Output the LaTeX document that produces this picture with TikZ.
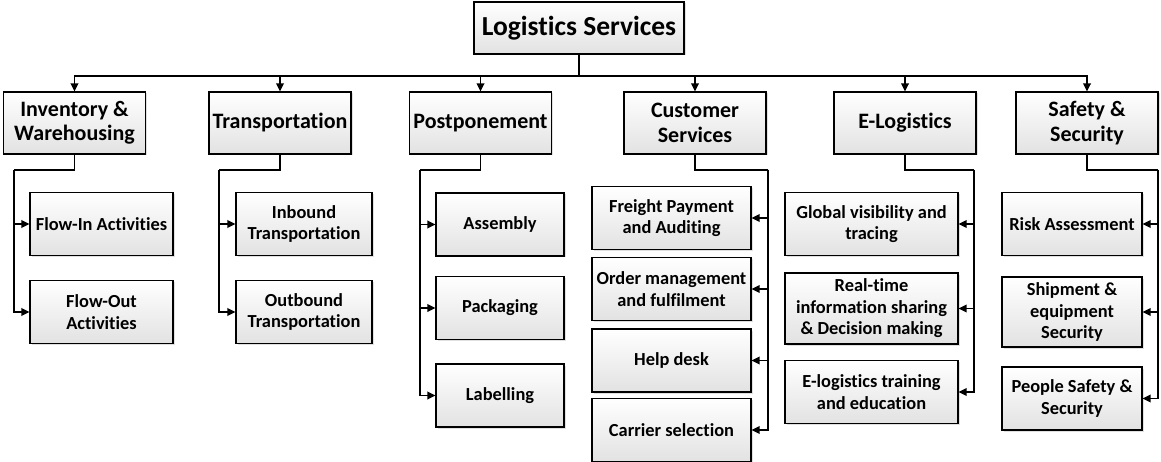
\documentclass[tikz,border=0pt]{standalone}
\usepackage{fontspec}
\setmainfont[Ligatures=NoCommon]{Carlito}
\usetikzlibrary{arrows.meta,shadows}
\definecolor{box_top}{RGB}{255,255,255}
\definecolor{box_bot}{RGB}{226,226,226}

\begin{document}
\begin{tikzpicture}[x=1pt,y=-1pt,line width=1.8pt,>={Triangle[length=8pt,width=7.5pt]}]
    \tikzstyle{box}=[draw=black, line width=1.1pt, rectangle, align=center, text=black,
                     top color=box_top, bottom color=box_bot, inner sep=2pt,
                     drop shadow={shadow xshift=1.5pt, shadow yshift=-1.5pt, opacity=0.3, fill=black!40}]
    \tikzstyle{root}=[style=box, minimum width=210pt, minimum height=52pt, font=\fontsize{27.5}{31}\selectfont\bfseries]
    \tikzstyle{cat}=[style=box, minimum width=142pt, minimum height=62pt, font=\fontsize{22}{24.5}\selectfont\bfseries]
    \tikzstyle{sub}=[style=box, minimum height=63pt, font=\fontsize{18.4}{21.6}\selectfont\bfseries]

    \useasboundingbox (0,0) rectangle (1161,462);

    \node[root] (LS) at (579,28) {Logistics Services};

    \node[cat] (inv)   at (74.5,123)  {Inventory \&\\Warehousing};
    \node[cat] (trans) at (280,123)   {Transportation};
    \node[cat] (post)  at (480.5,123) {Postponement};
    \node[cat] (cust)  at (695,123)   {Customer\\Services};
    \node[cat] (elog)  at (905,123)   {E-Logistics};
    \node[cat] (safe)  at (1087,123)  {Safety \&\\Security};

    % inventory & transport
    \node[sub,minimum width=143pt] (fin)  at (101.5,224) {Flow-In Activities};
    \node[sub,minimum width=143pt] (fout) at (101.5,312) {Flow-Out\\Activities};
    \node[sub,minimum width=136pt] (inb)  at (304,224)   {Inbound\\Transportation};
    \node[sub,minimum width=136pt] (outb) at (304,312)   {Outbound\\Transportation};

    % postponement
    \node[sub,minimum width=128pt] (asm)  at (500,224.5) {Assembly};
    \node[sub,minimum width=128pt] (pack) at (500,308)   {Packaging};
    \node[sub,minimum width=128pt] (lab)  at (500,395.5) {Labelling};

    % customer services
    \node[sub,minimum width=159pt] (fpa)  at (671.5,218)   {Freight Payment\\and Auditing};
    \node[sub,minimum width=159pt] (ord)  at (671.5,289)   {Order management\\and fulfilment};
    \node[sub,minimum width=159pt] (help) at (671.5,360.5) {Help desk};
    \node[sub,minimum width=159pt] (car)  at (671.5,430)   {Carrier selection};

    % e-logistics
    \node[sub,minimum width=173pt] (vis)  at (871.5,224)   {Global visibility and\\tracing};
    \node[sub,minimum width=173pt,minimum height=71pt] (rts) at (871.5,308.5) {Real-time\\information sharing\\\& Decision making};
    \node[sub,minimum width=173pt] (trn)  at (871.5,392)   {E-logistics training\\and education};

    % safety & security
    \node[sub,minimum width=140pt] (risk) at (1072,224)   {Risk Assessment};
    \node[sub,minimum width=140pt,minimum height=70pt] (ship) at (1072,312) {Shipment \&\\equipment\\Security};
    \node[sub,minimum width=140pt] (ppl)  at (1072,398.5) {People Safety \&\\Security};

    \coordinate (bus)   at (579,76);
    \coordinate (invT)  at (14,170);
    \coordinate (transT) at (219,170);
    \coordinate (postT) at (420,170);
    \coordinate (custT) at (768,170);
    \coordinate (elogT) at (974,170);
    \coordinate (safeT) at (1158,170);

    \draw (LS) -- (bus);
    \foreach \c in {inv,trans,post,cust,elog,safe}
      \draw[->] (bus) -| (\c.north);

    \draw (inv.south) |- (invT);
    \draw (trans.south) |- (transT);
    \draw (post.south) |- (postT);
    \draw (cust.south) |- (custT);
    \draw (elog.south) |- (elogT);
    \draw (safe.south) |- (safeT);

    \foreach \s in {fin,fout} \draw[->] (invT) |- (\s.west);
    \foreach \s in {inb,outb} \draw[->] (transT) |- (\s.west);
    \foreach \s in {asm,pack,lab} \draw[->] (postT) |- (\s.west);
    \foreach \s in {fpa,ord,help,car} \draw[->] (custT) |- (\s.east);
    \foreach \s in {vis,rts,trn} \draw[->] (elogT) |- (\s.east);
    \foreach \s in {risk,ship,ppl} \draw[->] (safeT) |- (\s.east);
\end{tikzpicture}
\end{document}
